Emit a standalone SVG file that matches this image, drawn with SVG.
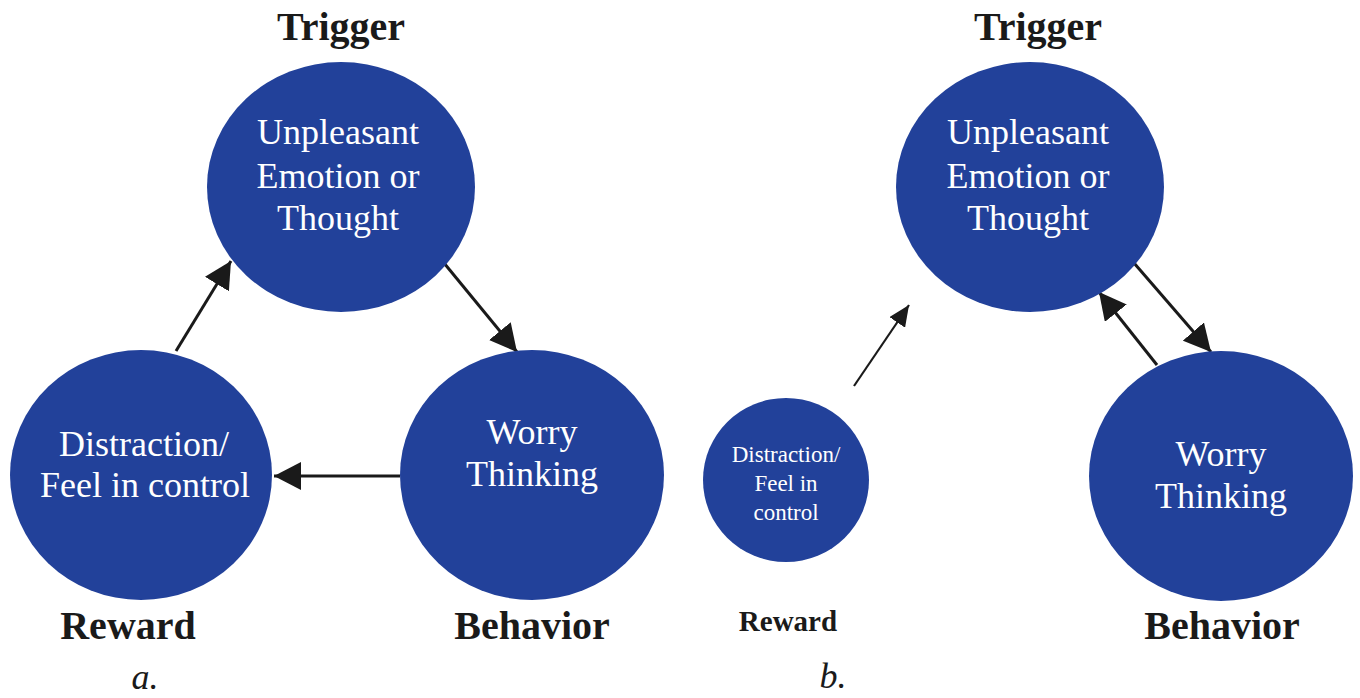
<svg xmlns="http://www.w3.org/2000/svg" width="1360" height="698" viewBox="0 0 1360 698">
<style>
.node{fill:#22419a;}
.in{font-family:"Liberation Serif",serif;fill:#ffffff;text-anchor:middle;}
.lbl{font-family:"Liberation Serif",serif;font-weight:bold;fill:#1a1a1a;text-anchor:middle;}
.cap{font-family:"Liberation Serif",serif;font-style:italic;fill:#1a1a1a;text-anchor:middle;font-size:36px;}
.conn{stroke:#1a1a1a;fill:none;}
</style>
<defs>
<marker id="ah" markerUnits="userSpaceOnUse" viewBox="0 0 27 28" markerWidth="27" markerHeight="28" refX="27" refY="14" orient="auto">
<path d="M0,0 L27,14 L0,28 z" fill="#1a1a1a"/>
</marker>
<marker id="ahs" markerUnits="userSpaceOnUse" viewBox="0 0 21 19" markerWidth="21" markerHeight="19" refX="21" refY="9.5" orient="auto">
<path d="M0,0 L21,9.5 L0,19 z" fill="#1a1a1a"/>
</marker>
</defs>
<rect width="1360" height="698" fill="#ffffff"/>

<g id="connectors">
<line class="conn" stroke-width="3" x1="176" y1="351" x2="231" y2="261" marker-end="url(#ah)"/>
<line class="conn" stroke-width="3" x1="444" y1="263" x2="517" y2="352" marker-end="url(#ah)"/>
<line class="conn" stroke-width="3" x1="400" y1="476" x2="274" y2="476" marker-end="url(#ah)"/>
<line class="conn" stroke-width="2.2" x1="854" y1="386" x2="909" y2="305" marker-end="url(#ahs)"/>
<line class="conn" stroke-width="3" x1="1134" y1="263" x2="1211" y2="352" marker-end="url(#ah)"/>
<line class="conn" stroke-width="3" x1="1157" y1="365" x2="1099" y2="292" marker-end="url(#ah)"/>
</g>

<g id="a-trigger">
<text class="lbl" x="341" y="40" font-size="40">Trigger</text>
<ellipse class="node" cx="341" cy="187" rx="134" ry="125"/>
<text class="in" x="338" y="144" font-size="36">Unpleasant</text>
<text class="in" x="338" y="188" font-size="36">Emotion or</text>
<text class="in" x="338" y="230" font-size="36">Thought</text>
</g>
<g id="a-reward">
<ellipse class="node" cx="141" cy="475" rx="131" ry="125"/>
<text class="in" x="144" y="456" font-size="36">Distraction/</text>
<text class="in" x="145" y="497" font-size="36">Feel in control</text>
<text class="lbl" x="128" y="639" font-size="40">Reward</text>
</g>
<g id="a-behavior">
<ellipse class="node" cx="532" cy="475" rx="132" ry="125"/>
<text class="in" x="532" y="444" font-size="36">Worry</text>
<text class="in" x="532" y="486" font-size="36">Thinking</text>
<text class="lbl" x="532" y="639" font-size="40">Behavior</text>
</g>
<text class="cap" x="145" y="689">a.</text>

<g id="b-trigger">
<text class="lbl" x="1038" y="40" font-size="40">Trigger</text>
<ellipse class="node" cx="1030" cy="187" rx="134" ry="125"/>
<text class="in" x="1028" y="144" font-size="36">Unpleasant</text>
<text class="in" x="1028" y="188" font-size="36">Emotion or</text>
<text class="in" x="1028" y="230" font-size="36">Thought</text>
</g>
<g id="b-reward">
<ellipse class="node" cx="786" cy="480" rx="83" ry="82"/>
<text class="in" x="786" y="462" font-size="23">Distraction/</text>
<text class="in" x="786" y="491" font-size="23">Feel in</text>
<text class="in" x="786" y="520" font-size="23">control</text>
<text class="lbl" x="788" y="631" font-size="29">Reward</text>
</g>
<g id="b-behavior">
<ellipse class="node" cx="1221" cy="476" rx="132" ry="125"/>
<text class="in" x="1221" y="466" font-size="36">Worry</text>
<text class="in" x="1221" y="508" font-size="36">Thinking</text>
<text class="lbl" x="1222" y="639" font-size="40">Behavior</text>
</g>
<text class="cap" x="833" y="688">b.</text>
</svg>
